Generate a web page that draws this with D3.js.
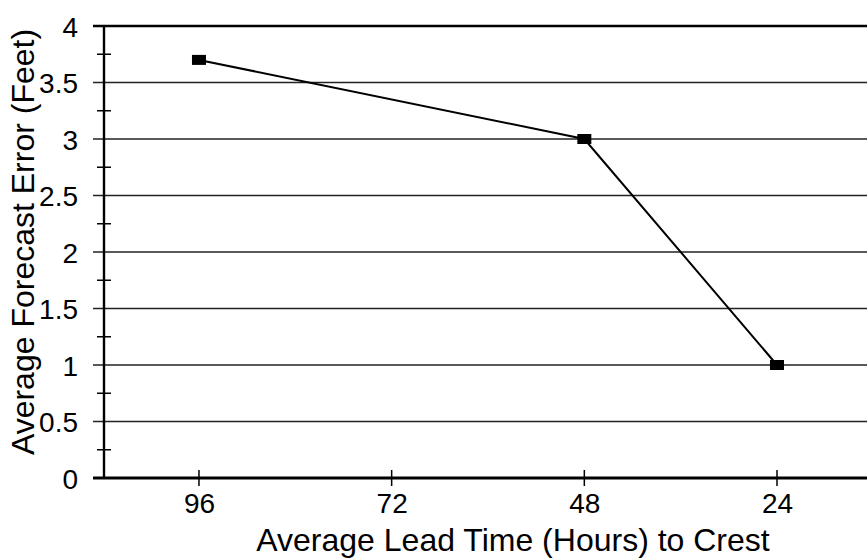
<!DOCTYPE html>
<html><head><meta charset="utf-8">
<script src="https://cdn.jsdelivr.net/npm/d3@7"></script>
<style>body{margin:0;background:#fff}text{font-family:"Liberation Sans",Arial,sans-serif;fill:#000}</style>
</head><body>
<svg id="c" width="867" height="558"></svg>
<script>
const leadHours = [96, 48, 24];
const forecastError = [3.7, 3.0, 1.0];
const xTickValues = [96, 72, 48, 24];
const yTickValues = [0, 0.5, 1, 1.5, 2, 2.5, 3, 3.5, 4];
const yMinorTicks = [0.25, 0.75, 1.25, 1.75, 2.25, 2.75, 3.25, 3.75];

const svg = d3.select("#c");
const x = d3.scaleLinear().domain([107.83, 12.79]).range([104, 867]);
const y = d3.scaleLinear().domain([0, 4]).range([478, 26]);

// gridlines
svg.append("g").selectAll("line").data(yTickValues).join("line")
  .attr("x1", 93).attr("x2", 867)
  .attr("y1", d => y(d)).attr("y2", d => y(d))
  .attr("stroke", d => d === 4 ? "#000" : "#222")
  .attr("stroke-width", d => d === 4 ? 2.4 : 1.5);

// y axis
const yAxis = d3.axisLeft(y).tickValues(yTickValues).tickSize(0).tickPadding(26).tickFormat(d3.format("~g"));
const gy = svg.append("g").attr("transform", "translate(104,0)").call(yAxis);
gy.select(".domain").remove();
gy.selectAll("text").attr("font-size", 28).attr("dy", "0.36em");
svg.append("g").selectAll("line").data(yMinorTicks).join("line")
  .attr("x1", 97).attr("x2", 111)
  .attr("y1", d => y(d)).attr("y2", d => y(d))
  .attr("stroke", "#000").attr("stroke-width", 1.5);
svg.append("line").attr("x1", 104).attr("x2", 104).attr("y1", 26).attr("y2", 479)
  .attr("stroke", "#000").attr("stroke-width", 2.4);

// x axis
const xAxis = d3.axisBottom(x).tickValues(xTickValues).tickSize(0).tickPadding(15).tickFormat(d3.format("d"));
const gx = svg.append("g").attr("transform", "translate(0,478)").call(xAxis);
gx.select(".domain").remove();
gx.selectAll("text").attr("font-size", 28).attr("dy", "0.71em");
svg.append("g").selectAll("line").data(xTickValues).join("line")
  .attr("x1", d => x(d)).attr("x2", d => x(d))
  .attr("y1", 470).attr("y2", 486)
  .attr("stroke", "#000").attr("stroke-width", 1.5);
svg.append("line").attr("x1", 93).attr("x2", 867).attr("y1", 478).attr("y2", 478)
  .attr("stroke", "#000").attr("stroke-width", 2.8);

// line + markers
const pts = leadHours.map((h, i) => [h, forecastError[i]]);
svg.append("path").datum(pts)
  .attr("d", d3.line().x(d => x(d[0])).y(d => y(d[1])))
  .attr("fill", "none").attr("stroke", "#000").attr("stroke-width", 2);
svg.append("g").selectAll("rect").data(pts).join("rect")
  .attr("x", d => x(d[0]) - 7).attr("y", d => y(d[1]) - 5)
  .attr("width", 14).attr("height", 10).attr("fill", "#000");

// titles
svg.append("text").attr("x", 513).attr("y", 551).attr("text-anchor", "middle")
  .attr("font-size", 32).text("Average Lead Time (Hours) to Crest");
svg.append("text").attr("transform", "translate(34,242) rotate(-90)").attr("text-anchor", "middle")
  .attr("font-size", 32).text("Average Forecast Error (Feet)");
</script>
</body></html>
